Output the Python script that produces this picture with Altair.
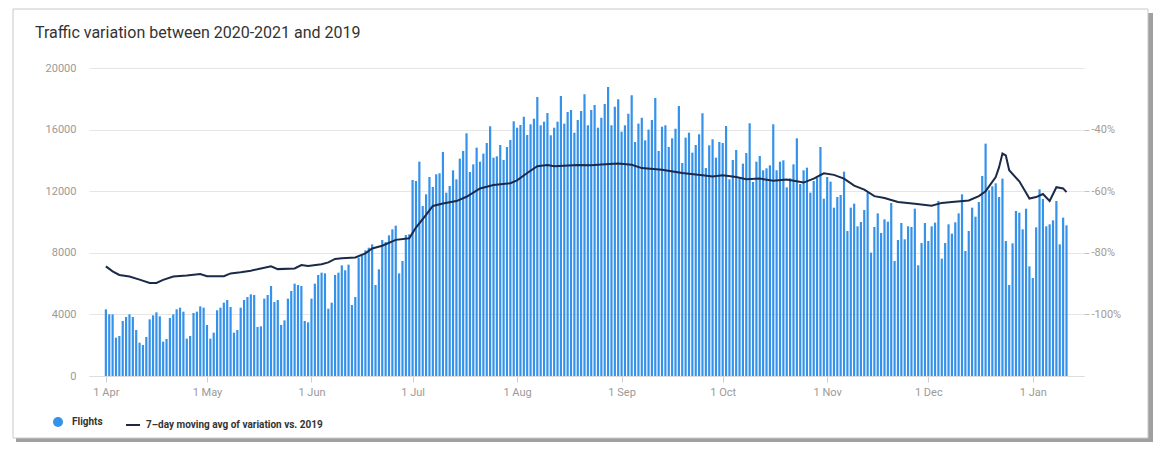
import altair as alt
import pandas as pd

TITLE = "Traffic variation between 2020-2021 and 2019"
START_DATE = "2020-04-01"
SERIES_BAR = "Flights"
SERIES_LINE = "7\u2013day moving avg of variation vs. 2019"

# daily flights, 1 Apr 2020 .. 11 Jan 2021
flights = [
    4329, 4005, 4005, 2489, 2598, 3572, 3831, 4005, 3831, 2987,
    2165, 2013, 2533, 3680, 3940, 4135, 3875, 2230, 2403, 3767,
    4005, 4329, 4437, 4178, 2424, 2598, 4091, 4178, 4524, 4437,
    3312, 2424, 2814, 4264, 4437, 4762,
    4935, 4481, 2814, 2987, 4437, 4935, 5130, 5303, 5260, 3182,
    3225, 5022, 5260, 5845, 4806, 4935, 3312, 3615, 5022, 5520,
    5996, 5910, 5845, 3572, 3485, 5022, 5996, 6559, 6711, 6667,
    4373, 4762, 6559, 6711,
    7187, 6862, 7230, 4611, 5130, 7684, 7836, 8160, 8333, 8550,
    5910, 6928, 8832, 8702, 9135, 9525, 9763, 6667, 7468, 9157,
    9200, 12728, 12663, 13918, 11040, 11797, 12923, 12274, 13097, 13162,
    14547, 11905, 12339, 13357, 12772, 14114, 14612,
    15761, 13248, 13745, 14829, 13918, 14438, 15131, 16215, 14178, 14265,
    15001, 14027, 14871, 15326, 16540, 16124, 16300, 16839, 15651, 16345,
    16709, 18118, 16280, 16515, 17080, 15630, 16124, 16515, 18183, 16388,
    17145, 17275, 15800, 16625, 17210, 18293,
    16280, 17275, 17600, 16124, 16774, 17664, 18768, 16280, 17491, 17967,
    15866, 16280, 17037, 18226, 15196, 16388, 16774, 15305, 15999, 16625,
    18053, 14612, 16189, 16280, 14871, 15435, 16059, 17534, 13832, 15478,
    15800, 14503, 15001, 15696, 17058, 13508, 14980,
    15370, 14178, 15196, 15131, 16235, 12772, 14027, 14677, 12837, 13788,
    14481, 16410, 12598, 13918, 14287, 13357, 13487, 13681, 16345, 13357,
    13918, 14005, 12252, 12837, 13745, 15435, 12468, 13357, 13528, 11905,
    12663, 12880, 14871, 11515, 12923, 12620,
    10930, 11624, 11754, 13270, 9416, 10930, 11190, 9720, 10001, 10780,
    11905, 8009, 9676, 10564, 9286, 10174, 10023, 11235, 7468, 8832,
    9936, 8875, 9720, 9676, 10866, 7189, 8637, 9936, 8767, 9720,
    9957, 11365, 7620, 8637, 9849,
    9243, 9979, 10564, 11797, 8118, 9416, 10930, 10347, 11300, 12988,
    15088, 12058, 12317, 12512, 11624, 12815, 8767, 5910, 8615, 10715,
    10606, 9525, 10866, 7122, 6364, 9654, 12122, 11495, 9720, 9849,
    10109, 11365, 8550, 10282, 9784,
]

# 7-day moving average of variation vs 2019 (%), read at these day offsets from 1 Apr
avg_day_offset = [
    0, 2, 4, 7, 10, 13, 15, 17, 20, 24, 28, 30, 35, 37, 40, 43, 46, 49, 51, 56,
    58, 60, 64, 66, 68, 70, 74, 77, 79, 82, 86, 90, 92, 95, 97, 100, 104, 107, 111, 115,
    120, 122, 125, 128, 131, 133, 140, 144, 147, 152, 156, 159, 165, 171, 177, 180, 183, 187, 190, 194,
    198, 202, 207, 210, 213, 216, 219, 222, 225, 228, 231, 235, 240, 245, 248, 251, 256, 259, 261, 264,
    265, 266, 267, 268, 271, 273, 274, 276, 278, 280, 282, 284, 285,
]
avg_variation_pct = [
    -84.4, -86.0, -87.2, -87.7, -88.7, -89.8, -89.8, -88.8, -87.7, -87.4, -86.9, -87.6, -87.6, -86.7, -86.3, -85.8, -85.1, -84.4, -85.3, -85.1,
    -84.0, -84.3, -83.7, -83.1, -82.0, -81.8, -81.5, -80.2, -78.6, -77.7, -75.8, -75.3, -71.8, -67.7, -64.8, -64.0, -63.2, -61.8, -59.1, -58.0,
    -57.4, -56.5, -54.1, -51.9, -51.5, -51.9, -51.5, -51.6, -51.3, -51.0, -51.4, -52.5, -53.0, -54.1, -54.8, -55.2, -54.8, -55.4, -56.1, -55.9,
    -56.6, -56.2, -57.2, -55.9, -54.2, -54.7, -55.9, -58.2, -59.5, -61.6, -62.2, -63.5, -64.1, -64.7, -63.8, -63.5, -63.0, -61.6, -60.0, -55.4,
    -52.2, -47.8, -48.4, -53.2, -56.8, -60.5, -62.4, -61.9, -60.9, -63.2, -58.7, -59.1, -60.3,
]

month_ticks = ["2020-04-01", "2020-05-01", "2020-06-01", "2020-07-01", "2020-08-01",
               "2020-09-01", "2020-10-01", "2020-11-01", "2020-12-01", "2021-01-01"]
x_domain_ends = ["2020-03-28 11:30", "2021-01-14 17:00"]
left_ticks = [0, 4000, 8000, 12000, 16000, 20000]
right_ticks = [-100, -80, -60, -40]


def ms(ts):
    return int(pd.Timestamp(ts, tz="UTC").value // 10**6)


start = pd.Timestamp(START_DATE)
bars_df = pd.DataFrame({
    "date": [(start + pd.Timedelta(days=i)).strftime("%Y-%m-%d") for i in range(len(flights))],
    "flights": flights,
    "series": SERIES_BAR,
})
line_df = pd.DataFrame({
    "date": [(start + pd.Timedelta(days=d)).strftime("%Y-%m-%d") for d in avg_day_offset],
    "pct": avg_variation_pct,
    "series": SERIES_LINE,
})
card_df = pd.DataFrame({"k": [0]})

FONT = "Roboto"

x_enc = alt.X(
    "date:T",
    scale=alt.Scale(type="utc", domain=[ms(t) for t in x_domain_ends], nice=False),
    axis=alt.Axis(
        values=[ms(t) for t in month_ticks], format="%-d %b", title=None, grid=False,
        domainColor="#dddddd", tickColor="#d0d0d0", tickSize=6, labelColor="#9a9a9a",
        labelFontSize=11, labelFont=FONT, labelPadding=4, labelAngle=0,
    ),
)

# card frame with a drop shadow on the right and bottom edges
shadow_right = alt.Chart(card_df).mark_rect(fill="#a0a0a0").encode(
    x=alt.value(1059), x2=alt.value(1064), y=alt.value(-55), y2=alt.value(374)
)
shadow_bottom = alt.Chart(card_df).mark_rect(fill="#a0a0a0").encode(
    x=alt.value(-73), x2=alt.value(1064), y=alt.value(370), y2=alt.value(374)
)
card = alt.Chart(card_df).mark_rect(fill=None, stroke="#c9c9c9", strokeWidth=1).encode(
    x=alt.value(-76), x2=alt.value(1059), y=alt.value(-59), y2=alt.value(370)
)

bars = alt.Chart(bars_df).mark_bar(size=2.2).encode(
    x=x_enc,
    y=alt.Y(
        "flights:Q",
        scale=alt.Scale(domain=[0, 20000], nice=False),
        axis=alt.Axis(
            values=left_ticks, format="d", title=None, grid=True, gridColor="#e6e6e6",
            domain=False, ticks=False, tickSize=0, labelPadding=13, labelColor="#9a9a9a",
            labelFontSize=11, labelFont=FONT,
        ),
    ),
    color=alt.Color(
        "series:N",
        scale=alt.Scale(domain=[SERIES_BAR], range=["#3592ea"]),
        legend=alt.Legend(
            orient="none", legendX=-36, legendY=349, title=None, symbolType="circle",
            symbolSize=100, symbolStrokeWidth=0, labelFontSize=10, labelFontWeight="bold",
            labelColor="#333333", labelFont=FONT, padding=0, labelOffset=9, labelLimit=400,
        ),
    ),
)

line = alt.Chart(line_df).mark_line(strokeWidth=2).encode(
    x=x_enc,
    y=alt.Y(
        "pct:Q",
        scale=alt.Scale(domain=[-120, -20], nice=False, zero=False),
        axis=alt.Axis(
            orient="right", values=right_ticks, labelExpr="datum.value + '%'", title=None,
            grid=False, domain=False, ticks=True, tickSize=5, tickColor="#cdbfb2",
            labelColor="#a8998b", labelFontSize=11, labelFont=FONT, labelPadding=2,
        ),
    ),
    stroke=alt.Stroke(
        "series:N",
        scale=alt.Scale(domain=[SERIES_LINE], range=["#1b2a48"]),
        legend=alt.Legend(
            orient="none", legendX=36, legendY=349, title=None, symbolType="stroke",
            symbolSize=196, symbolStrokeWidth=2, labelFontSize=10, labelFontWeight="bold",
            labelColor="#333333", labelFont=FONT, padding=0, labelOffset=5, labelLimit=400,
        ),
    ),
)

chart = (
    alt.layer(shadow_right, shadow_bottom, card, bars, line)
    .resolve_scale(y="independent", color="independent", stroke="independent")
    .properties(
        width=995,
        height=308,
        background="white",
        padding={"left": 4, "top": 0, "right": 0, "bottom": 0},
        title=alt.TitleParams(
            TITLE, anchor="start", frame="group", dx=-54, dy=32, offset=0,
            fontSize=16, font=FONT, fontWeight="normal", color="#333333",
        ),
    )
    .configure_view(stroke="transparent", strokeWidth=0)
)

chart.save("out.html", embed_options={"renderer": "svg", "actions": False})
